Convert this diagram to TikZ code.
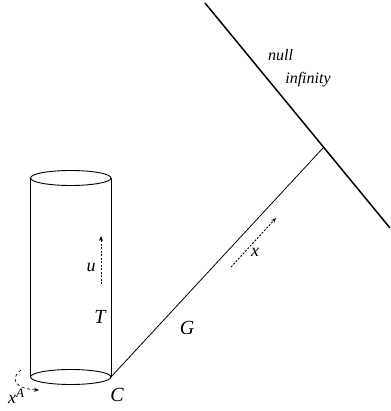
\documentclass[tikz,border=0pt]{standalone}
\usepackage{fontspec}
\setmainfont{Liberation Serif}
\usetikzlibrary{arrows.meta,positioning}
\begin{document}
\begin{tikzpicture}[
    x=1pt, y=-1pt,
    label/.style={font=\itshape\fontsize{20}{22}\selectfont, inner sep=0pt},
    smalllabel/.style={font=\itshape\fontsize{16}{18}\selectfont, inner sep=0pt},
    flow/.style={dash pattern=on 2pt off 1.5pt, line width=0.9pt, -{Stealth[length=5pt,width=4pt]}},
]
    \useasboundingbox (0,0) rectangle (390,411);
    % cylinder
    \coordinate (topleft) at (30.5,178);
    \coordinate (topright) at (111,178);
    \coordinate (baseleft) at (30.5,377);
    \coordinate (baseright) at (111,377);
    \draw[line width=0.9pt] (70.75,178) ellipse (40.25 and 7.5);
    \draw[line width=0.9pt] (70.75,377) ellipse (40.25 and 7.5);
    \draw[line width=0.9pt] (topleft) -- (baseleft);
    \draw[line width=0.9pt] (topright) -- (baseright);
    % null infinity and generator
    \coordinate (scritop) at (205,3);
    \coordinate (scribottom) at (390,228);
    \coordinate (scrimeet) at (323,148);
    \draw[line width=1.5pt] (scritop) -- (scribottom);
    \draw[line width=0.8pt] (baseright) -- (scrimeet);
    % arrows
    \coordinate (xtail) at (231,267);
    \coordinate (xhead) at (276,218);
    \coordinate (utail) at (101,284);
    \coordinate (uhead) at (101,236);
    \draw[flow] (xtail) -- (xhead);
    \draw[flow] (utail) -- (uhead);
    \coordinate (angtail) at (21,370);
    \coordinate (anghead) at (39,390);
    \draw[flow, line width=0.7pt, dash pattern=on 3pt off 2.5pt] (angtail) .. controls (9,379) and (16,389) .. (anghead);
    % labels
    \node[smalllabel] (null) at (280.5,55) {null};
    \node[smalllabel] (infinity) at (308,80) {infinity};
    \node[label, font=\itshape\fontsize{18}{20}\selectfont] (xlabel) at (255,252) {x};
    \node[label, font=\itshape\fontsize{18}{20}\selectfont] (ulabel) at (91,267) {u};
    \node[label] (T) at (100,317) {T};
    \node[label] (G) at (187,328) {G};
    \node[label] (C) at (117,395) {C};
    \node[label, font=\itshape\fontsize{18}{20}\selectfont, anchor=base west] (xA) at (8,403) {x\raisebox{6pt}{\fontsize{13}{15}\selectfont A}};
\end{tikzpicture}
\end{document}
